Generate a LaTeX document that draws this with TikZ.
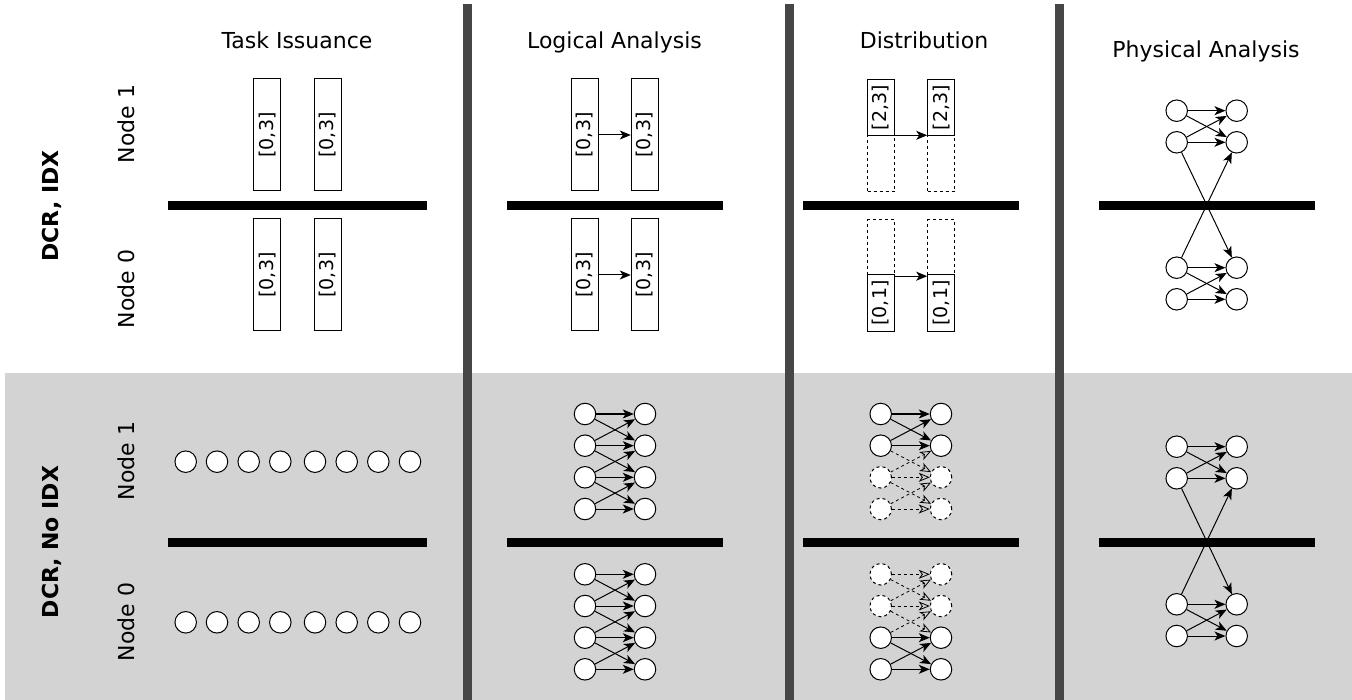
\documentclass[tikz,border=0pt]{standalone}
\usepackage{fontspec}
\setmainfont{DejaVu Sans}
\usetikzlibrary{arrows.meta}
\definecolor{sepgray}{HTML}{464646}
\definecolor{bggray}{HTML}{D3D3D3}

\begin{document}
\begin{tikzpicture}[x=1pt,y=-1pt,
  hdr/.style={font=\fontsize{22}{26}\selectfont, anchor=base, inner sep=0},
  rowlbl/.style={font=\fontsize{22}{26}\selectfont\bfseries, rotate=90, inner sep=0},
  nodelbl/.style={font=\fontsize{22}{26}\selectfont, rotate=90, inner sep=0},
  rng/.style={draw, fill=white, line width=1pt, rotate=90, inner sep=0, font=\fontsize{19}{22}\selectfont},
  full/.style={rng, minimum width=112pt, minimum height=27pt},
  half/.style={rng, minimum width=56.5pt, minimum height=27pt},
  ghost/.style={draw, fill=white, line width=1pt, dash pattern=on 3pt off 3pt, minimum width=27pt, minimum height=56pt, inner sep=0},
  task/.style={circle, draw, fill=white, line width=1pt, minimum size=21.5pt, inner sep=0},
  gtask/.style={task, dash pattern=on 3pt off 3pt},
  arr/.style={-{Stealth[length=11pt,width=9pt,inset=3pt]}, line width=1pt},
  garr/.style={-{Stealth[open,length=11pt,width=9pt,inset=3pt]}, line width=0.8pt, dash pattern=on 3pt off 3pt},
  bar/.style={fill=black},
  sep/.style={fill=sepgray}
]
\useasboundingbox (0,0) rectangle (1352,700);

% shaded lower band
\fill[bggray] (5,373) rectangle (1352,700);

% column separators
\foreach \x in {467.5,789.5,1059.5}
  \fill[sep] (\x-4.5,4) rectangle (\x+4.5,700);

% column headings
\node[hdr] (hTask) at (297,48.3) {Task Issuance};
\node[hdr] (hLog)  at (614.5,48.3) {Logical Analysis};
\node[hdr] (hDist) at (924,48.3) {Distribution};
\node[hdr] (hPhys) at (1206,57.3) {Physical Analysis};

% row labels
\node[rowlbl] (rIdx)   at (52,206) {DCR, IDX};
\node[rowlbl] (rNoIdx) at (52,542) {DCR, No IDX};
\node[nodelbl] (n1a) at (126,124) {Node 1};
\node[nodelbl] (n0a) at (126,289) {Node 0};
\node[nodelbl] (n1b) at (126,461) {Node 1};
\node[nodelbl] (n0b) at (126,622) {Node 0};

% node boundaries
\foreach \y in {205.5,542.5} {
  \fill[bar] (168,\y-4.2) rectangle (427,\y+4.2);
  \fill[bar] (507,\y-4.2) rectangle (723,\y+4.2);
  \fill[bar] (803,\y-4.2) rectangle (1019,\y+4.2);
  \fill[bar] (1099,\y-4.2) rectangle (1315,\y+4.2);
}

% ---------- DCR, IDX ----------
% task issuance
\node[full] (ti1) at (267.3,135) {[0,3]};
\node[full] (ti2) at (327.7,135) {[0,3]};
\node[full] (ti3) at (267.3,275) {[0,3]};
\node[full] (ti4) at (327.7,275) {[0,3]};

% logical analysis
\node[full] (la1) at (585,135) {[0,3]};
\node[full] (la2) at (644.8,135) {[0,3]};
\node[full] (la3) at (585,275) {[0,3]};
\node[full] (la4) at (644.8,275) {[0,3]};
\draw[arr] (la1) -- (la2);
\draw[arr] (la3) -- (la4);

% distribution
\node[ghost] (dg1) at (881,163.8) {};
\node[ghost] (dg2) at (941.2,163.8) {};
\node[half]  (ds1) at (881,107.7) {[2,3]};
\node[half]  (ds2) at (941.2,107.7) {[2,3]};
\node[ghost] (dg3) at (881,247.7) {};
\node[ghost] (dg4) at (941.2,247.7) {};
\node[half]  (ds3) at (881,303) {[0,1]};
\node[half]  (ds4) at (941.2,303) {[0,1]};
\draw[arr] (dg1.north east) -- (dg2.north west);
\draw[arr] (dg3.south east) -- (dg4.south west);

% physical analysis
\foreach \i/\y in {1/110.7,2/142.3,3/267.7,4/299.3} {
  \node[task] (pL\i) at (1176.7,\y) {};
  \node[task] (pR\i) at (1236.7,\y) {};
}
\foreach \a/\b in {1/1,1/2,2/1,2/2,2/3,3/2,3/3,3/4,4/3,4/4}
  \draw[arr] (pL\a) -- (pR\b);

% ---------- DCR, No IDX ----------
% task issuance
\foreach \x [count=\k] in {185.7,217,248.7,280.3,315,346.7,378.3,410} {
  \node[task] (tu\k) at (\x,461.7) {};
  \node[task] (tl\k) at (\x,622.3) {};
}

% logical analysis
\foreach \i/\y in {1/414,2/445.7,3/477.3,4/509,5/574.3,6/606,7/637.7,8/669.3} {
  \node[task] (lL\i) at (585,\y) {};
  \node[task] (lR\i) at (645,\y) {};
}
\foreach \a/\b in {1/1,1/2,2/1,2/2,2/3,3/2,3/3,3/4,4/3,4/4,
                   5/5,5/6,6/5,6/6,6/7,7/6,7/7,7/8,8/7,8/8}
  \draw[arr] (lL\a) -- (lR\b);

% distribution
\foreach \i/\y/\s in {1/414/task,2/445.7/task,3/477.3/gtask,4/509/gtask,
                      5/574.3/gtask,6/606/gtask,7/637.7/task,8/669.3/task} {
  \node[\s] (dL\i) at (880.7,\y) {};
  \node[\s] (dR\i) at (941,\y) {};
}
\foreach \a/\b/\s in {1/1/arr,1/2/arr,2/1/arr,2/2/arr,2/3/garr,3/2/garr,3/3/garr,3/4/garr,4/3/garr,4/4/garr,
                      5/5/garr,5/6/garr,6/5/garr,6/6/garr,6/7/garr,7/6/garr,7/7/arr,7/8/arr,8/7/arr,8/8/arr}
  \draw[\s] (dL\a) -- (dR\b);

% physical analysis
\foreach \i/\y in {1/446.7,2/478.3,3/604.3,4/636} {
  \node[task] (qL\i) at (1176.7,\y) {};
  \node[task] (qR\i) at (1236.7,\y) {};
}
\foreach \a/\b in {1/1,1/2,2/1,2/2,2/3,3/2,3/3,3/4,4/3,4/4}
  \draw[arr] (qL\a) -- (qR\b);

\end{tikzpicture}
\end{document}
